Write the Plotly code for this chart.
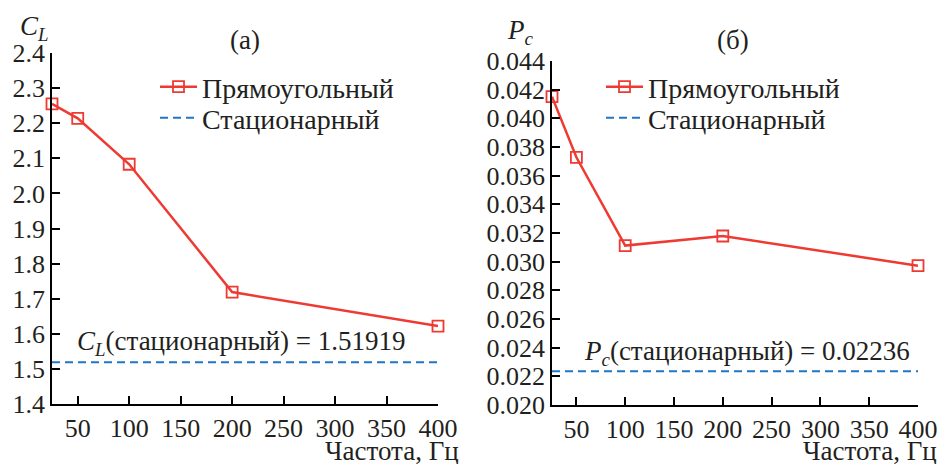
import plotly.graph_objects as go

freq = [25, 50, 100, 200, 400]
cl_rect = [2.255, 2.214, 2.083, 1.719, 1.622]
cl_stat = 1.51919
pc_rect = [0.04151, 0.03728, 0.03112, 0.03179, 0.02972]
pc_stat = 0.02236
x_range = [25, 400]
x_ticks = [50, 100, 150, 200, 250, 300, 350, 400]

W, H = 939, 464
FONT = "'Liberation Serif', 'Times New Roman', Times, serif"
TXT = "#231f20"
RED = "#ee3a32"
BLUE = "#1f76c6"

fig = go.Figure()

def px(v):
    return v / W

def py(v):
    return 1 - v / H

panels = [
    (cl_rect, cl_stat, "x", "y", "legend", "legend2"),
    (pc_rect, pc_stat, "x2", "y2", "legend3", "legend4"),
]
for vals, stat, xa, ya, lg1, lg2 in panels:
    fig.add_trace(go.Scatter(
        x=freq, y=vals, mode="lines+markers", name="Прямоугольный",
        line=dict(color=RED, width=2.5),
        marker=dict(symbol="square-open", size=11, color=RED, line=dict(width=1.8)),
        xaxis=xa, yaxis=ya, legend=lg1, showlegend=True, cliponaxis=False))
    fig.add_trace(go.Scatter(
        x=[x_range[0], x_range[1]], y=[stat, stat], mode="lines", name="Стационарный",
        line=dict(color=BLUE, width=2, dash="8px,5px"),
        xaxis=xa, yaxis=ya, legend=lg2, showlegend=True, cliponaxis=False))

axis_common = dict(
    showline=True, linecolor="black", linewidth=1.5, mirror=False,
    ticks="inside", ticklen=8, tickwidth=1.5, tickcolor="black",
    showgrid=False, zeroline=False, automargin=False,
    tickfont=dict(family=FONT, size=26, color=TXT),
)

def leg(xp, yp):
    return dict(x=px(xp), y=py(yp), xanchor="left", yanchor="middle",
                bgcolor="rgba(0,0,0,0)", itemwidth=37, visible=True,
                font=dict(family=FONT, size=28, color=TXT), tracegroupgap=0)

fig.update_layout(
    template="none",
    showlegend=True,
    width=W, height=H,
    margin=dict(l=0, r=0, t=0, b=0, pad=0),
    paper_bgcolor="white", plot_bgcolor="white",
    font=dict(family=FONT, size=26, color=TXT),
    xaxis=dict(domain=[px(52), px(438)], range=x_range, tickvals=x_ticks, anchor="y", **axis_common),
    yaxis=dict(domain=[py(404), py(53)], range=[1.4, 2.4], dtick=0.1, tickformat=".1f", anchor="x", **axis_common),
    xaxis2=dict(domain=[px(552), px(918)], range=x_range, tickvals=x_ticks, anchor="y2", **axis_common),
    yaxis2=dict(domain=[py(405), py(61)], range=[0.020, 0.044], dtick=0.002, tickformat=".3f", anchor="x2", **axis_common),
    legend=leg(155, 87),
    legend2=leg(155, 118),
    legend3=leg(601, 87),
    legend4=leg(601, 118),
)

ann = [
    dict(text="<i>C<sub>L</sub></i>", x=px(18), y=py(28), xanchor="left", yanchor="middle", size=27),
    dict(text="(a)", x=px(245), y=py(40), xanchor="center", yanchor="middle", size=27),
    dict(text="<i>P<sub>c</sub></i>", x=px(505), y=py(32), xanchor="left", yanchor="middle", size=27),
    dict(text="(б)", x=px(733), y=py(40), xanchor="center", yanchor="middle", size=27),
    dict(text="<i>C<sub>L</sub></i>(стационарный) = 1.51919", x=px(75), y=py(343), xanchor="left", yanchor="middle", size=27),
    dict(text="<i>P<sub>c</sub></i>(стационарный) = 0.02236", x=px(582), y=py(353), xanchor="left", yanchor="middle", size=27),
    dict(text="Частота, Гц", x=px(461), y=py(451), xanchor="right", yanchor="middle", size=27),
    dict(text="Частота, Гц", x=px(939), y=py(451), xanchor="right", yanchor="middle", size=27),
]
for a in ann:
    size = a.pop("size")
    fig.add_annotation(xref="paper", yref="paper", showarrow=False,
                       font=dict(family=FONT, size=size, color=TXT), **a)

fig.write_html("out.html")
